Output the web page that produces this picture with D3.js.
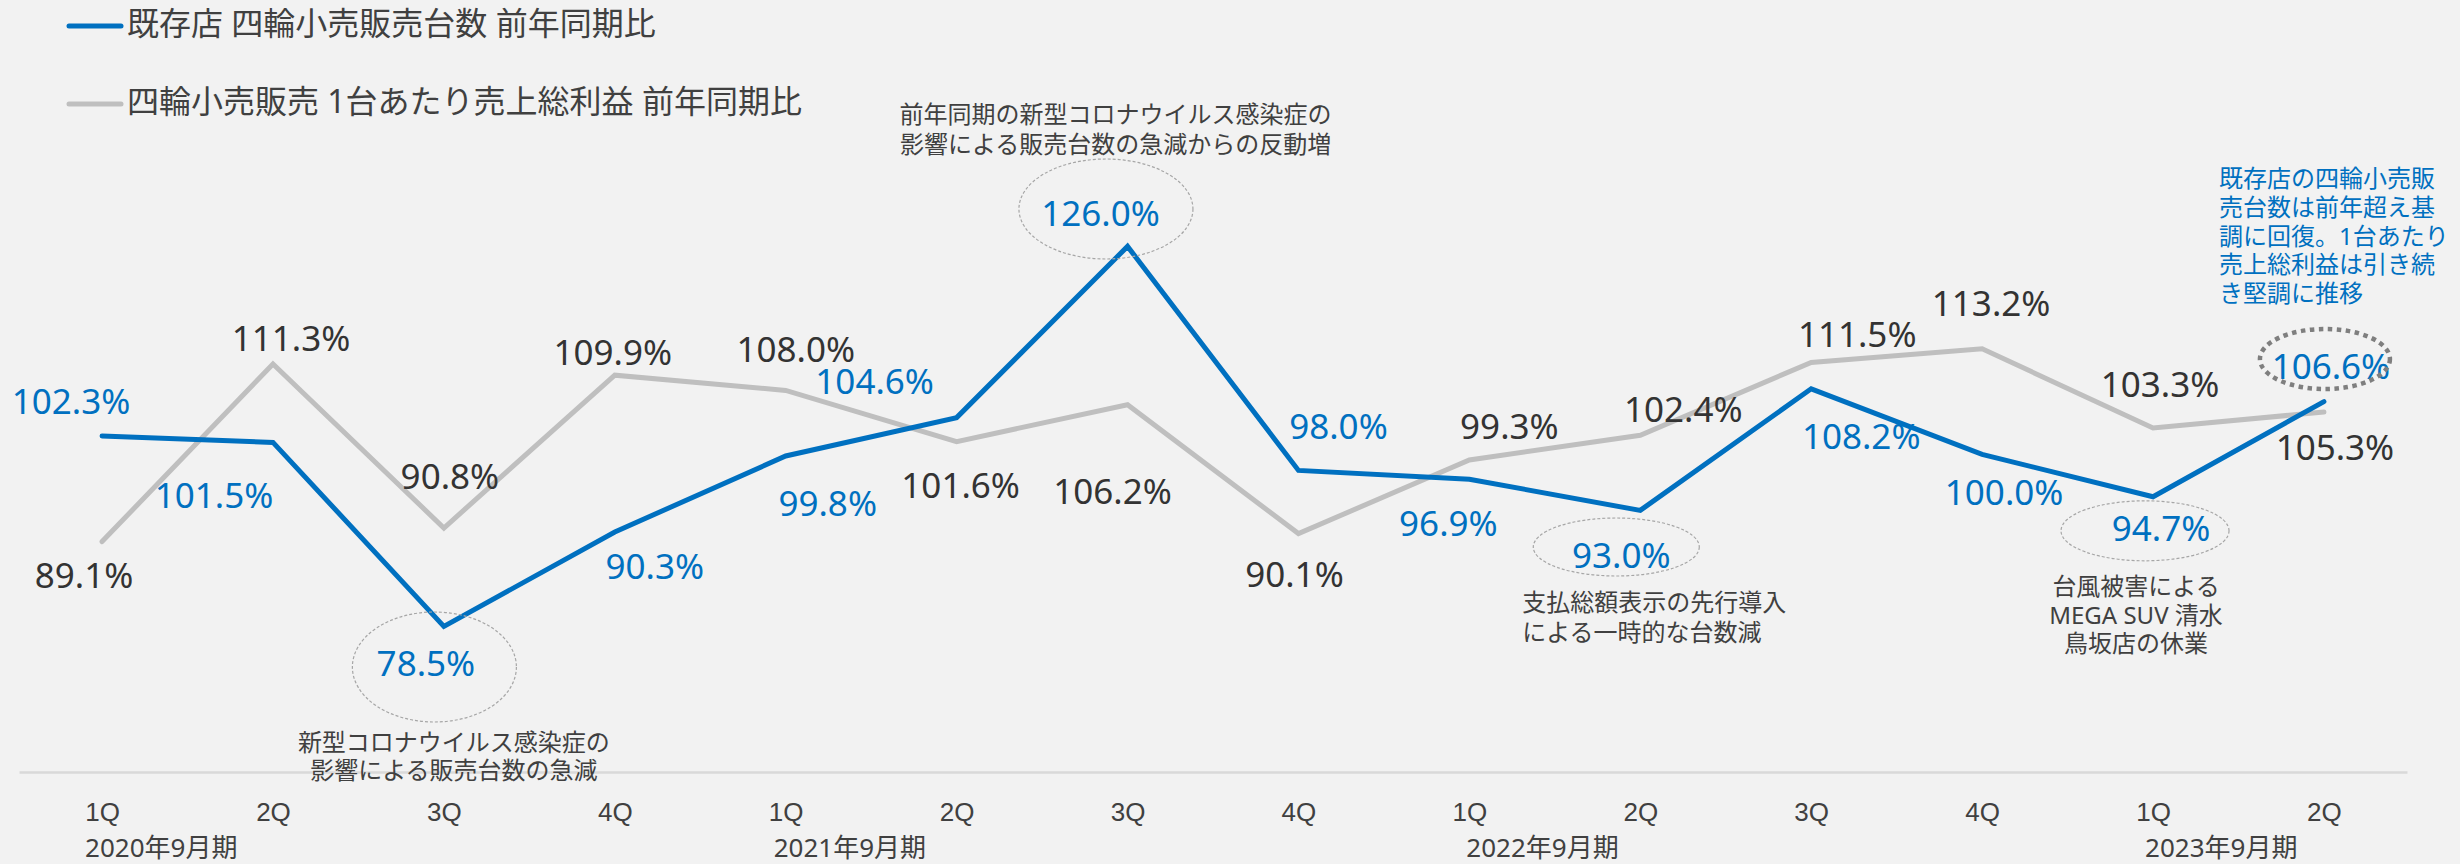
<!DOCTYPE html>
<html lang="ja">
<head>
<meta charset="utf-8">
<script src="https://cdn.jsdelivr.net/npm/d3@7"></script>
<style>
  html, body { margin: 0; padding: 0; background: #f2f2f2; }
  svg { display: block; font-family: "Noto Sans", "Noto Sans CJK JP", sans-serif; }
</style>
</head>
<body>
<div id="chart"></div>
<script>
// quarters shown on the x axis
const quarters = ["1Q", "2Q", "3Q", "4Q", "1Q", "2Q", "3Q", "4Q", "1Q", "2Q", "3Q", "4Q", "1Q", "2Q"];
const fiscalYears = ["2020年9月期", "2021年9月期", "2022年9月期", "2023年9月期"];
const fiscalYearFirstQ = [0, 4, 8, 12];

const seriesNames = ["既存店 四輪小売販売台数 前年同期比", "四輪小売販売 1台あたり売上総利益 前年同期比"];
// % vs same period of previous year
const unitsYoY = [102.3, 101.5, 78.5, 90.3, 99.8, 104.6, 126.0, 98.0, 96.9, 93.0, 108.2, 100.0, 94.7, 106.6];
const profitYoY = [89.1, 111.3, 90.8, 109.9, 108.0, 101.6, 106.2, 90.1, 99.3, 102.4, 111.5, 113.2, 103.3, 105.3];

const notes = [
	{ at: 2, lines: ["新型コロナウイルス感染症の", "影響による販売台数の急減"] },
	{ at: 6, lines: ["前年同期の新型コロナウイルス感染症の", "影響による販売台数の急減からの反動増"] },
	{ at: 9, lines: ["支払総額表示の先行導入", "による一時的な台数減"] },
	{ at: 12, lines: ["台風被害による", "MEGA SUV 清水", "鳥坂店の休業"] },
	{ at: 13, lines: ["既存店の四輪小売販", "売台数は前年超え基", "調に回復。1台あたり", "売上総利益は引き続", "き堅調に推移"] },
];

const width = 2460, height = 864;
const blue = "#0070c0", grey = "#bfbfbf", textCol = "#404040";

const svg = d3.select("#chart").append("svg")
	.attr("width", width)
	.attr("height", height)
	.attr("viewBox", [0, 0, width, height]);

const x = d3.scalePoint()
	.domain(d3.range(quarters.length))
	.range([19, 2407])
	.padding(0.486);

const y = d3.scaleLinear()
	.domain([60, 130])
	.range([774.4, 214.4]);

// x axis
const axis = svg.append("g")
	.attr("transform", "translate(0,772)")
	.call(d3.axisBottom(x).tickSize(0).tickSizeOuter(0).tickPadding(31).tickFormat(i => quarters[i]));
axis.select(".domain").attr("stroke", "#d9d9d9").attr("stroke-width", 2.5);
axis.selectAll("text").attr("font-size", 26).attr("fill", textCol).attr("font-family", null);

// year labels, a bit left of each 1Q
const yearShift = [-17, -12, -3, -8];
svg.append("g").selectAll("text")
	.data(fiscalYears)
	.join("text")
	.attr("x", (d, i) => x(fiscalYearFirstQ[i]) + yearShift[i])
	.attr("y", 857)
	.attr("font-size", 26)
	.attr("fill", textCol)
	.text(d => d);

const line = d3.line().x((d, i) => x(i)).y(d => y(d));

svg.append("path")
	.datum(profitYoY)
	.attr("d", line)
	.attr("fill", "none")
	.attr("stroke", grey)
	.attr("stroke-width", 5)
	.attr("stroke-linecap", "round");

svg.append("path")
	.datum(unitsYoY)
	.attr("d", line)
	.attr("fill", "none")
	.attr("stroke", blue)
	.attr("stroke-width", 5)
	.attr("stroke-linecap", "round");

// value labels, offsets from their points
const unitsOff = [[-31, -36], [-59, 52], [-18, 36], [40, 33], [42, 46], [-82, -37], [-27, -34],
	[40, -45], [-21, 43], [-19, 44], [50, 47], [22, 37], [8, 31], [7, -36]];
const profitOff = [[-18, 33], [18, -27], [6, -53], [-2, -24], [10, -42], [4, 43], [-15, 86],
	[-4, 40], [40, -35], [43, -27], [46, -29], [9, -46], [7, -45], [11, 34]];

const fmt = d => d.toFixed(1) + "%";

svg.append("g").selectAll("text")
	.data(profitYoY)
	.join("text")
	.attr("x", (d, i) => x(i) + profitOff[i][0])
	.attr("y", (d, i) => y(d) + profitOff[i][1])
	.attr("text-anchor", "middle")
	.attr("dominant-baseline", "central")
	.attr("font-size", 35)
	.attr("fill", "#333333")
	.text(fmt);

svg.append("g").selectAll("text")
	.data(unitsYoY)
	.join("text")
	.attr("x", (d, i) => x(i) + unitsOff[i][0])
	.attr("y", (d, i) => y(d) + unitsOff[i][1])
	.attr("text-anchor", "middle")
	.attr("dominant-baseline", "central")
	.attr("font-size", 35)
	.attr("fill", blue)
	.text(fmt);

// ellipses round the highlighted values and the note texts
const ringLayout = [
	{ dx: -9.5, dy: 40.6, rx: 82, ry: 55 },
	{ dx: -21.6, dy: -37.4, rx: 87, ry: 50 },
	{ dx: -24, dy: 36.6, rx: 83, ry: 29 },
	{ dx: -8, dy: 34, rx: 84, ry: 30 },
	{ dx: 1, dy: -42.6, rx: 65, ry: 30, bold: true },
];
const noteLayout = [
	{ dx: 10, dy: 115, lh: 28, anchor: "middle" },
	{ dx: -12, dy: -133, lh: 30, anchor: "middle" },
	{ dx: -118, dy: 91, lh: 30, anchor: "start" },
	{ dx: -17, dy: 89, lh: 28.5, anchor: "middle" },
	{ dx: -105, dy: -224, lh: 28.7, anchor: "start", color: blue },
];

notes.forEach((n, k) => {
	const px = x(n.at), py = y(unitsYoY[n.at]);
	const r = ringLayout[k];
	svg.append("ellipse")
		.attr("cx", px + r.dx)
		.attr("cy", py + r.dy)
		.attr("rx", r.rx)
		.attr("ry", r.ry)
		.attr("fill", "none")
		.attr("stroke", r.bold ? "#7f7f7f" : "#a6a6a6")
		.attr("stroke-width", r.bold ? 4.5 : 1.2)
		.attr("stroke-dasharray", r.bold ? "4.5 4.5" : "3 2");

	const L = noteLayout[k];
	svg.append("text")
		.attr("text-anchor", L.anchor)
		.attr("font-size", 24)
		.attr("fill", L.color || textCol)
		.selectAll("tspan")
		.data(n.lines)
		.join("tspan")
		.attr("x", px + L.dx)
		.attr("y", (d, j) => py + L.dy + j * L.lh)
		.attr("dominant-baseline", "central")
		.text(d => d);
});

// legend
const legend = svg.append("g");
[blue, grey].forEach((c, i) => {
	const ly = 26 + i * 78;
	legend.append("line")
		.attr("x1", 69).attr("x2", 121)
		.attr("y1", ly).attr("y2", ly)
		.attr("stroke", c)
		.attr("stroke-width", 5)
		.attr("stroke-linecap", "round");
	legend.append("text")
		.attr("x", 127)
		.attr("y", ly - 4)
		.attr("dominant-baseline", "central")
		.attr("font-size", 32)
		.attr("fill", textCol)
		.text(seriesNames[i]);
});
</script>
</body>
</html>
